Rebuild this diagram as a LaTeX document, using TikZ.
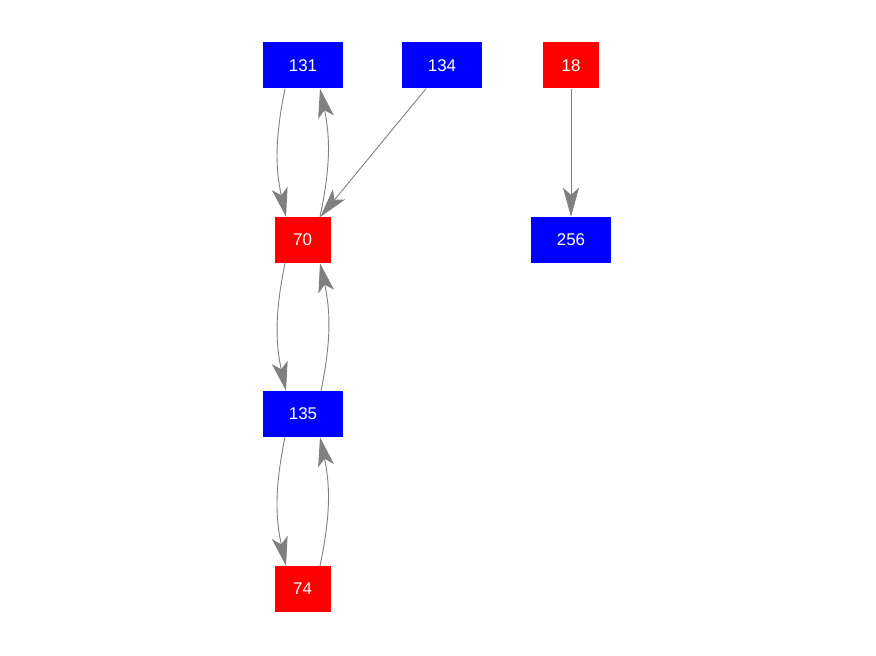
\documentclass[tikz,border=0pt]{standalone}
\usepackage{fontspec}
\setmainfont{Liberation Sans}
\usetikzlibrary{arrows.meta}
\definecolor{nblue}{RGB}{0,0,255}
\definecolor{nred}{RGB}{255,0,0}
\definecolor{egray}{RGB}{128,128,128}
\begin{document}
\begin{tikzpicture}[x=1bp,y=1bp,
  box/.style={draw=none,minimum height=46bp,inner sep=0pt,text=white,font=\fontsize{17}{20}\selectfont},
  bbox/.style={box,fill=nblue,minimum width=80bp},
  rbox/.style={box,fill=nred,minimum width=56bp},
  edge/.style={draw=egray,line width=0.9bp,-{Stealth[length=29bp,width=16bp,inset=7bp,fill=egray]}}]
\useasboundingbox (0,0) rectangle (876,656);
\node[bbox] (n131) at (303,590.5) {131};
\node[bbox] (n134) at (442,590.5) {134};
\node[rbox] (n18) at (571,590.5) {18};
\node[rbox] (n70) at (302.5,416) {70};
\node[bbox] (n256) at (571,416) {256};
\node[bbox] (n135) at (303,242) {135};
\node[rbox] (n74) at (302.5,67) {74};
\path[edge] ([xshift=-18bp]n131.south) to[bend right=12] ([xshift=-16.5bp]n70.north);
\path[edge] ([xshift=17.5bp]n70.north) to[bend right=12] ([xshift=17bp]n131.south);
\path[edge] ([xshift=-16bp]n134.south) -- ([xshift=18bp]n70.north);
\path[edge] (n18.south) -- (n256.north);
\path[edge] ([xshift=-17.5bp]n70.south) to[bend right=12] ([xshift=-17bp]n135.north);
\path[edge] ([xshift=18bp]n135.north) to[bend right=12] ([xshift=17.5bp]n70.south);
\path[edge] ([xshift=-18bp]n135.south) to[bend right=12] ([xshift=-16.5bp]n74.north);
\path[edge] ([xshift=17.5bp]n74.north) to[bend right=12] ([xshift=17bp]n135.south);
\end{tikzpicture}
\end{document}
